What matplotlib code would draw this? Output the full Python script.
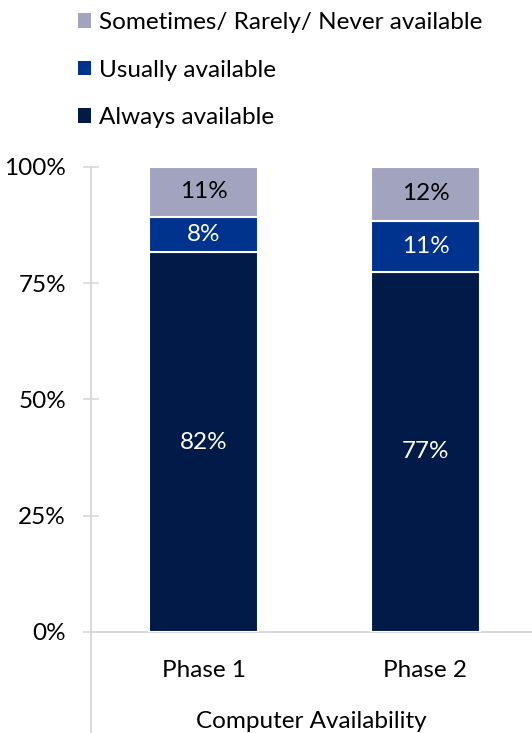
import matplotlib
matplotlib.use("Agg")
import matplotlib.pyplot as plt
from matplotlib.lines import Line2D
from matplotlib.patches import Patch

plt.rcParams['font.family'] = ['Lato', 'DejaVu Sans']

categories = ["Phase 1", "Phase 2"]
always = [81.6, 77.4]
usually = [7.6, 10.9]
rarely = [10.8, 11.7]
series_names = ["Always available", "Usually available", "Sometimes/ Rarely/ Never available"]
colors = ["#021A47", "#00338D", "#A2A4BF"]
label_colors = ["white", "white", "black"]
y_ticks = [0, 25, 50, 75, 100]
y_tick_labels = ["0%", "25%", "50%", "75%", "100%"]
x_title = "Computer Availability"

FS = 17.5
W, H = 532, 733
fig = plt.figure(figsize=(W / 100, H / 100), dpi=100)
ax = fig.add_axes([91 / W, 1 - 632 / H, 1 - 91 / W, (632 - 166.7) / H])

x = list(range(len(categories)))
bottom = [0.0] * len(categories)
for vals, col, lc in zip([always, usually, rarely], colors, label_colors):
    ax.bar(x, vals, width=0.49, bottom=bottom, color=col,
           edgecolor="white", linewidth=1.5, zorder=3)
    for xi, v, b in zip(x, vals, bottom):
        ax.text(xi, b + v / 2, f"{v:.0f}%", ha="center", va="center",
                color=lc, fontsize=FS)
    bottom = [b + v for b, v in zip(bottom, vals)]

ax.set_xlim(-0.507, 1.48)
ax.set_ylim(0, 100)
ax.set_yticks(y_ticks)
ax.set_yticklabels(y_tick_labels, fontsize=FS)
ax.set_xticks(x)
ax.set_xticklabels(categories, fontsize=FS)
ax.tick_params(axis="y", direction="inout", length=12, width=1.2,
               color="#D9D9D9", pad=12)
ax.tick_params(axis="x", length=0, pad=20)
ax.set_xlabel(x_title, fontsize=FS, labelpad=22)

for s in ["top", "right", "left"]:
    ax.spines[s].set_visible(False)
ax.spines["bottom"].set_color("#D9D9D9")
ax.spines["bottom"].set_linewidth(1.5)
ax.add_line(Line2D([0, 0], [1, -0.25], transform=ax.transAxes,
                   color="#D9D9D9", linewidth=1.5, clip_on=False, zorder=1))

handles = [Patch(facecolor=c) for c in colors][::-1]
fig.legend(handles, series_names[::-1], loc="upper left",
           bbox_to_anchor=(56 / W, 1 + 10 / H), frameon=False, fontsize=FS,
           handlelength=0.55, handleheight=0.55, handletextpad=0.3,
           labelspacing=1.1)

fig.savefig("out.png", dpi=100)
